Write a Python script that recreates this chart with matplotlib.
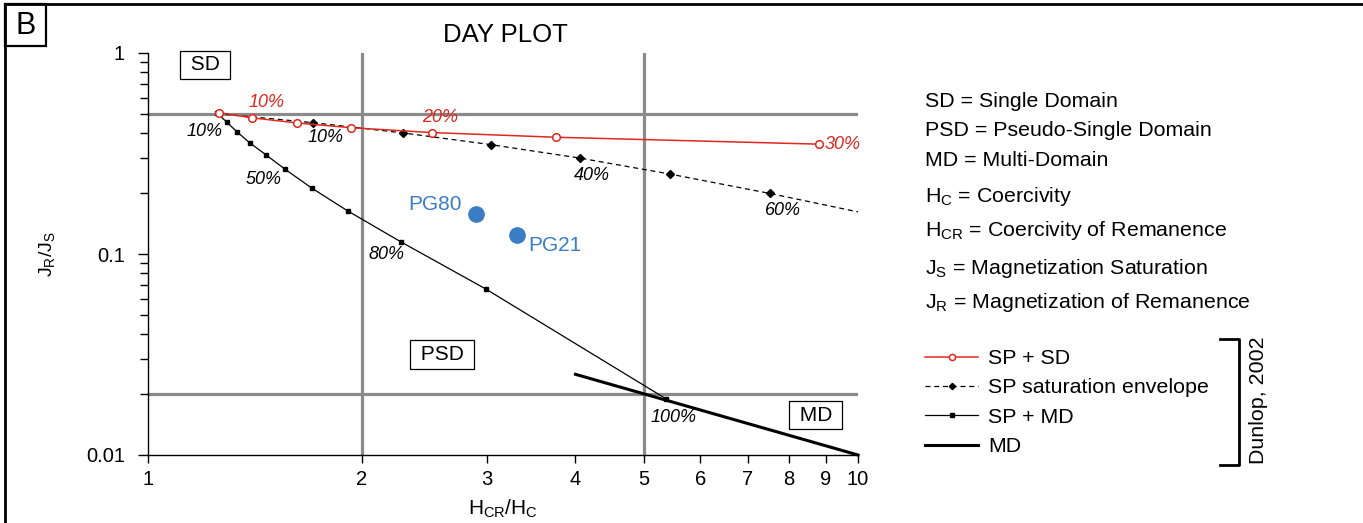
import matplotlib
matplotlib.use('Agg')
import matplotlib.pyplot as plt
from matplotlib.lines import Line2D
from matplotlib.patches import Rectangle

plt.rcParams['font.family'] = ['Liberation Sans', 'DejaVu Sans']
plt.rcParams['mathtext.default'] = 'regular'

# Dunlop (2002) theoretical curves
sp_sd_x = [1.26, 1.40, 1.62, 1.93, 2.51, 3.75, 8.8]
sp_sd_y = [0.505, 0.476, 0.449, 0.425, 0.402, 0.381, 0.352]

env_x = [1.25, 1.71, 2.29, 3.04, 4.06, 5.43, 7.52, 10.0]
env_y = [0.50, 0.45, 0.40, 0.35, 0.30, 0.25, 0.20, 0.162]

sp_md_x = [1.25, 1.29, 1.335, 1.39, 1.465, 1.56, 1.70, 1.91, 2.27, 2.99, 5.37]
sp_md_y = [0.505, 0.454, 0.405, 0.358, 0.312, 0.264, 0.213, 0.164, 0.115, 0.067, 0.019]

md_x = [4.0, 10.0]
md_y = [0.0252, 0.01]

# samples
sample_names = ['PG80', 'PG21']
sample_x = [2.90, 3.31]
sample_y = [0.158, 0.125]
sample_lx = [2.54, 3.74]
sample_ly = [0.177, 0.110]

# percentage annotations
red_pct = [(1.47, 0.564, '10%'), (2.58, 0.475, '20%')]
black_pct = [(1.203, 0.409, '10%'), (1.776, 0.382, '10%'), (1.457, 0.236, '50%'),
             (2.164, 0.099, '80%'), (4.22, 0.247, '40%'), (7.84, 0.164, '60%'),
             (5.49, 0.0153, '100%')]

# domain boxes
domain_labels = [' SD ', ' PSD ', ' MD ']
domain_x = [1.203, 2.595, 8.72]
domain_y = [0.872, 0.0316, 0.0158]

legend_notes = ['SD = Single Domain', 'PSD = Pseudo-Single Domain', 'MD = Multi-Domain',
                'H$_{C}$ = Coercivity', 'H$_{CR}$ = Coercivity of Remanence',
                'J$_{S}$ = Magnetization Saturation', 'J$_{R}$ = Magnetization of Remanence']
note_y = [101, 131, 161, 196, 230, 268, 303]

W, H = 1363, 523
fig = plt.figure(figsize=(W / 100, H / 100), dpi=100)
ax = fig.add_axes([148 / W, 1 - 455 / H, 710 / W, 402 / H])
ax.set_xscale('log')
ax.set_yscale('log')
ax.set_xlim(1, 10)
ax.set_ylim(0.01, 1)

grey = '#8a8a8a'
ax.plot([1, 10], [0.5, 0.5], color=grey, lw=2.3, zorder=1)
ax.plot([1, 10], [0.02, 0.02], color=grey, lw=2.3, zorder=1)
ax.plot([2, 2], [0.01, 1], color=grey, lw=2.3, zorder=1)
ax.plot([5, 5], [0.01, 1], color=grey, lw=2.3, zorder=1)

red = '#e0281e'
l_env, = ax.plot(env_x, env_y, color='black', ls=(0, (4, 3)), lw=0.9,
                 marker='D', ms=4, markevery=list(range(1, len(env_x) - 1)), zorder=3)
l_md, = ax.plot(md_x, md_y, color='black', lw=2.2, zorder=3, clip_on=False)
l_spmd, = ax.plot(sp_md_x, sp_md_y, color='black', lw=0.9, marker='s', ms=3.5, zorder=4)
l_spsd, = ax.plot(sp_sd_x, sp_sd_y, color=red, lw=1.1, marker='o', ms=5.5,
                  mfc='white', mec=red, mew=1.1, zorder=5)

blue = '#3a7dc4'
ax.plot(sample_x, sample_y, 'o', color=blue, ms=11, zorder=6)
for name, x, y in zip(sample_names, sample_lx, sample_ly):
    ax.text(x, y, name, color=blue, fontsize=15, ha='center', va='center')

for x, y, t in red_pct:
    ax.text(x, y, t, color=red, fontsize=13, style='italic', ha='center', va='center')
ax.text(8.98, sp_sd_y[-1], '30%', color=red, fontsize=13,
        style='italic', ha='left', va='center')
for x, y, t in black_pct:
    ax.text(x, y, t, color='black', fontsize=13, style='italic', ha='center', va='center')

box = dict(boxstyle='square,pad=0.22', fc='white', ec='black', lw=0.9)
for t, x, y in zip(domain_labels, domain_x, domain_y):
    ax.text(x, y, t, fontsize=15, ha='center', va='center', bbox=box, zorder=7)

for s in ['top', 'right']:
    ax.spines[s].set_visible(False)
ax.spines['left'].set_linewidth(1.0)
ax.spines['bottom'].set_linewidth(1.0)

narrow = ['Liberation Sans Narrow', 'Liberation Sans']
ax.set_xticks(list(range(1, 11)))
ax.set_xticklabels([str(i) for i in range(1, 11)], fontsize=14.5, family=narrow)
ax.xaxis.set_minor_locator(matplotlib.ticker.NullLocator())
ax.set_yticks([0.01, 0.1, 1])
ax.set_yticklabels(['0.01', '0.1', '1'], fontsize=14.5)
ax.tick_params(axis='x', which='major', length=6, width=1, direction='out', pad=5)
ax.tick_params(axis='y', which='major', length=7.5, width=1, pad=9)
ax.tick_params(axis='y', which='minor', length=5.5, width=1)

ax.set_xlabel('H$_{CR}$/H$_{C}$', fontsize=15, family=narrow, labelpad=6)
ax.set_ylabel('J$_{R}$/J$_{S}$', fontsize=14)
ax.yaxis.set_label_coords(-0.128, 0.5)
ax.text(0.503, 1.045, 'DAY PLOT', fontsize=18.5, ha='center', va='center',
        transform=ax.transAxes)

for t, y in zip(legend_notes, note_y):
    fig.text(925 / W, 1 - y / H, t, fontsize=15.4, ha='left', va='center')

fig.legend([l_spsd, l_env, l_spmd, l_md],
           ['SP + SD', 'SP saturation envelope', 'SP + MD', 'MD'],
           loc='upper left', bbox_to_anchor=(925 / W, 1 - 349 / H), frameon=False,
           fontsize=15.4, handlelength=2.5, handletextpad=0.45, labelspacing=0.49,
           borderaxespad=0, borderpad=0, numpoints=1, markerscale=0.8)

# bracket and source
bx = 1239
fig.add_artist(Line2D([1220 / W, bx / W, bx / W, 1220 / W],
                      [1 - 339 / H, 1 - 339 / H, 1 - 465 / H, 1 - 465 / H],
                      color='black', lw=2))
fig.text(1258 / W, 1 - 400 / H, 'Dunlop, 2002', rotation=90, fontsize=15.4,
         ha='center', va='center')

# panel frame and letter
fig.add_artist(Line2D([5 / W, 1], [1 - 4 / H, 1 - 4 / H], color='black', lw=2))
fig.add_artist(Line2D([5 / W, 5 / W], [0, 1 - 4 / H], color='black', lw=2))
fig.add_artist(Rectangle((5 / W, 1 - 46 / H), 41 / W, 42 / H, fill=False,
                         ec='black', lw=1.6, transform=fig.transFigure))
fig.text(26 / W, 1 - 26 / H, 'B', fontsize=22, ha='center', va='center')

fig.savefig('out.png', dpi=100)
